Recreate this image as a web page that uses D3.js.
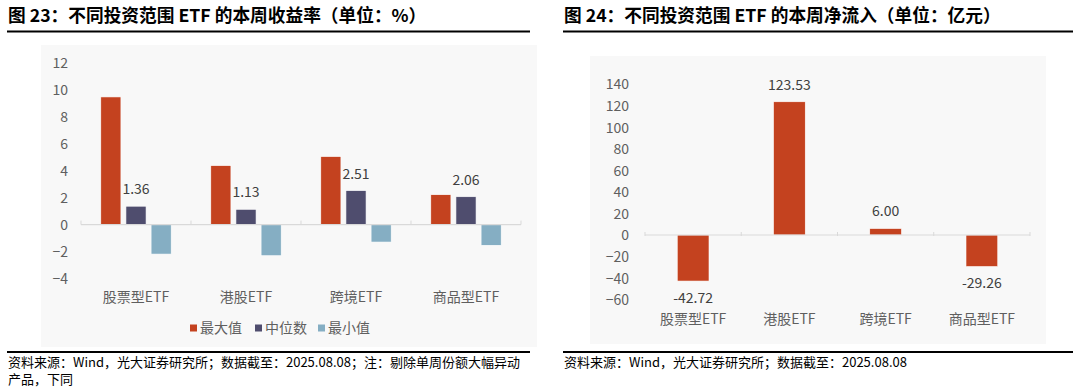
<!DOCTYPE html>
<html><head><meta charset="utf-8">
<script src="https://cdn.jsdelivr.net/npm/d3@7/dist/d3.min.js"></script>
<style>
body{margin:0;background:#fff;}
svg text{font-family:"Noto Sans CJK SC","Noto Sans",sans-serif;}
</style></head>
<body><svg id="c" width="1080" height="391"></svg>
<script>
const categories = ["股票型ETF","港股ETF","跨境ETF","商品型ETF"];
const seriesNames = ["最大值","中位数","最小值"];
const maxVals = [9.44, 4.36, 5.03, 2.21];
const medianVals = [1.36, 1.13, 2.51, 2.06];
const minVals = [-2.18, -2.30, -1.29, -1.53];
const leftTicks = [-4,-2,0,2,4,6,8,10,12];
const flowVals = [-42.72, 123.53, 6.00, -29.26];
const rightTicks = [-60,-40,-20,0,20,40,60,80,100,120,140];
const colors = ["#C4421F","#4F4D6E","#85AEC3"];

const svg = d3.select("#c");
const tickColor = "#5f5f5f";

// panels
svg.append("rect").attr("x",41).attr("y",45).attr("width",496).attr("height",302).attr("fill","#f8f8f8");
svg.append("rect").attr("x",590).attr("y",56).attr("width",456).attr("height",288).attr("fill","#f8f8f8");

// titles
function header(x1,x2,title,foot){
  svg.append("text").attr("x",x1+1).attr("y",22).attr("font-size",17.7).attr("font-weight","bold").attr("fill","#000").text(title);
  svg.append("line").attr("x1",x1).attr("x2",x2).attr("y1",31.5).attr("y2",31.5).attr("stroke","#000").attr("stroke-width",2);
  svg.append("line").attr("x1",x1).attr("x2",x2).attr("y1",352).attr("y2",352).attr("stroke","#000").attr("stroke-width",2);
  foot.forEach((t,i)=>svg.append("text").attr("x",x1+1).attr("y",367+i*17).attr("font-size",13).attr("fill","#000").text(t));
}
header(7,530,"图 23：不同投资范围 ETF 的本周收益率（单位：%）",["资料来源：Wind，光大证券研究所；数据截至：2025.08.08；注：剔除单周份额大幅异动","产品，下同"]);
header(563,1073,"图 24：不同投资范围 ETF 的本周净流入（单位：亿元）",["资料来源：Wind，光大证券研究所；数据截至：2025.08.08"]);

// ---------- Left chart ----------
{
  const y = d3.scaleLinear().domain([-4,12]).range([278.7,62.3]);
  const x0 = d3.scaleBand().domain(categories).range([81,521]);
  const bw = x0.bandwidth();
  const x1 = d3.scaleBand().domain(seriesNames).range([bw*0.18,bw*0.82]).paddingInner(0.2);
  const g = svg.append("g");
  const yAxis = d3.axisLeft(y).tickValues(leftTicks).tickSize(0).tickPadding(0).tickFormat(d3.format("d"));
  const ya = g.append("g").attr("transform","translate(68,0)").call(yAxis);
  ya.select(".domain").remove();
  ya.selectAll("text").attr("font-size",14).attr("fill",tickColor).attr("font-family","'Noto Sans CJK SC',sans-serif").attr("dy","0.35em");

  const data = categories.map((c,i)=>({c, vals:[maxVals[i],medianVals[i],minVals[i]]}));
  const grp = g.selectAll(".grp").data(data).enter().append("g").attr("transform",d=>`translate(${x0(d.c)},0)`);
  grp.selectAll("rect").data(d=>d.vals.map((v,j)=>({v,s:seriesNames[j],j}))).enter().append("rect")
    .attr("x",d=>x1(d.s)).attr("width",x1.bandwidth())
    .attr("y",d=>y(Math.max(0,d.v))).attr("height",d=>Math.abs(y(d.v)-y(0)))
    .attr("fill",d=>colors[d.j]).attr("stroke","#fff").attr("stroke-width",0.6);
  grp.append("text").attr("x",x1("中位数")+x1.bandwidth()/2).attr("y",d=>y(d.vals[1])-12)
    .attr("text-anchor","middle").attr("font-size",14).attr("fill","#404040").text(d=>d.vals[1].toFixed(2));

  // axis line
  g.append("line").attr("x1",81).attr("x2",521).attr("y1",y(0)).attr("y2",y(0)).attr("stroke","#d9d9d9").attr("stroke-width",1.2);
  d3.range(5).forEach(i=>{const xx = 81+bw*i; g.append("line").attr("x1",xx).attr("x2",xx).attr("y1",y(0)-4).attr("y2",y(0)).attr("stroke","#d9d9d9");});
  const xAxis = d3.axisBottom(x0).tickSize(0);
  const xa = g.append("g").attr("transform","translate(0,291)").call(xAxis);
  xa.select(".domain").remove();
  xa.selectAll("text").attr("font-size",14).attr("fill",tickColor).attr("font-family","'Noto Sans CJK SC',sans-serif").attr("dy","0.35em").attr("y",6);

  // legend
  const lg = g.append("g");
  const lx = [190,255,318];
  seriesNames.forEach((s,i)=>{
    lg.append("rect").attr("x",lx[i]).attr("y",324.5).attr("width",7).attr("height",7).attr("fill",colors[i]);
    lg.append("text").attr("x",lx[i]+10).attr("y",328).attr("dy","0.35em").attr("font-size",14).attr("fill",tickColor).text(s);
  });
}

// ---------- Right chart ----------
{
  const y = d3.scaleLinear().domain([-60,140]).range([299.7,84]);
  const x = d3.scaleBand().domain(categories).range([645,1030]);
  const bw = x.bandwidth();
  const barW = bw*0.33;
  const g = svg.append("g");
  const yAxis = d3.axisLeft(y).tickValues(rightTicks).tickSize(0).tickPadding(0).tickFormat(d3.format("d"));
  const ya = g.append("g").attr("transform","translate(629,0)").call(yAxis);
  ya.select(".domain").remove();
  ya.selectAll("text").attr("font-size",14).attr("fill",tickColor).attr("font-family","'Noto Sans CJK SC',sans-serif").attr("dy","0.35em");

  g.selectAll(".bar").data(flowVals).enter().append("rect")
    .attr("x",(d,i)=>x(categories[i])+bw/2-barW/2).attr("width",barW)
    .attr("y",d=>y(Math.max(0,d))).attr("height",d=>Math.abs(y(d)-y(0)))
    .attr("fill",colors[0]).attr("stroke","#fff").attr("stroke-width",0.6);
  g.selectAll(".lbl").data(flowVals).enter().append("text")
    .attr("x",(d,i)=>x(categories[i])+bw/2)
    .attr("y",d=>d>=0? y(d)-17 : y(d)+17).attr("dy","0.35em")
    .attr("text-anchor","middle").attr("font-size",14).attr("fill","#404040").text(d=>d.toFixed(2));

  g.append("line").attr("x1",645).attr("x2",1030).attr("y1",y(0)).attr("y2",y(0)).attr("stroke","#d9d9d9").attr("stroke-width",1.2);
  d3.range(5).forEach(i=>{const xx = 645+bw*i; g.append("line").attr("x1",xx).attr("x2",xx).attr("y1",y(0)-3).attr("y2",y(0)+1).attr("stroke","#d9d9d9");});
  const xa = g.append("g").attr("transform","translate(0,313)").call(d3.axisBottom(x).tickSize(0));
  xa.select(".domain").remove();
  xa.selectAll("text").attr("font-size",14).attr("fill",tickColor).attr("font-family","'Noto Sans CJK SC',sans-serif").attr("dy","0.35em").attr("y",6);
}
</script></body></html>
